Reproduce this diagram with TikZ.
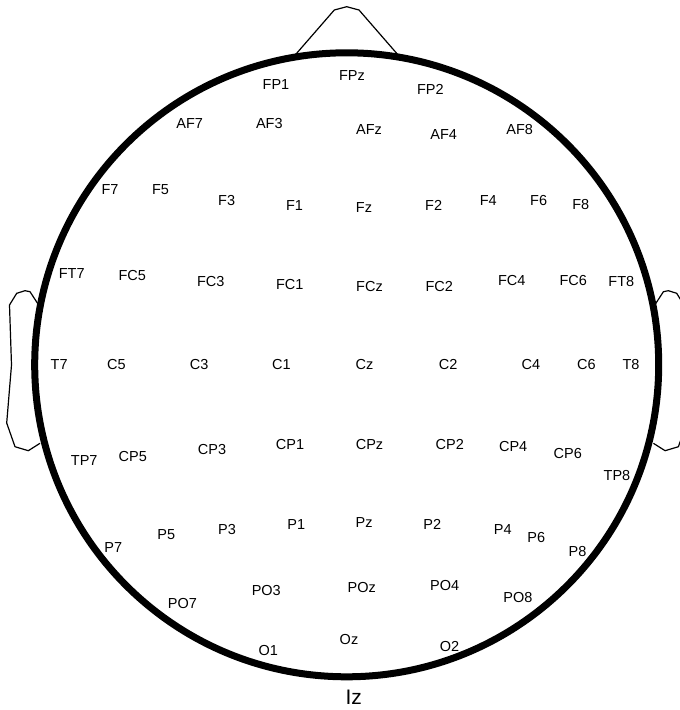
\documentclass[tikz,border=0pt]{standalone}
\usepackage{fontspec}
\setmainfont{Liberation Sans}
\begin{document}
\begin{tikzpicture}[x=1pt,y=-1pt,
  lbl/.style={font=\fontsize{14.5}{17}\selectfont, inner sep=0pt, anchor=center},
  headline/.style={line width=7pt},
  thin/.style={line width=1.2pt, line join=round}]
\useasboundingbox (0,0) rectangle (680,710);
\clip (0,0) rectangle (680,710);
% nose
\coordinate (nl) at (294.3,56);
\coordinate (nr) at (399,56);
\draw[thin] (nl) -- (334.3,10) -- (346.7,6.7) -- (359,10) -- (nr);
% left ear
\draw[thin] (38,304) -- (30,291.7) -- (25,290.7) -- (16.7,293.3) -- (9.5,305) -- (11.5,365) -- (6.7,423) -- (15,446.7) -- (28.3,450.7) -- (40,443.3);
% right ear (mirror)
\draw[thin] (655.4,304) -- (663.4,291.7) -- (668.4,290.7) -- (676.7,293.3) -- (683.9,305) -- (681.9,365) -- (686.7,423) -- (678.4,446.7) -- (665.1,450.7) -- (653.4,443.3);
% head
\draw[headline, fill=white] (346.7,364.8) circle[radius=312];
% labels
\node[lbl] (FP1) at (276,84.7) {FP1};
\node[lbl] (FPz) at (352,75.5) {FPz};
\node[lbl] (FP2) at (430.3,89.2) {FP2};
\node[lbl] (AF7) at (189.7,124) {AF7};
\node[lbl] (AF3) at (269.3,123.2) {AF3};
\node[lbl] (AFz) at (369,129.2) {AFz};
\node[lbl] (AF4) at (443.7,134.2) {AF4};
\node[lbl] (AF8) at (519.7,129.2) {AF8};
\node[lbl] (F7) at (110,189.5) {F7};
\node[lbl] (F5) at (160.5,190) {F5};
\node[lbl] (F3) at (226.7,200.8) {F3};
\node[lbl] (F1) at (294.5,205.8) {F1};
\node[lbl] (Fz) at (364,207.5) {Fz};
\node[lbl] (F2) at (433.7,205.8) {F2};
\node[lbl] (F4) at (488.3,200.8) {F4};
\node[lbl] (F6) at (538.7,200.8) {F6};
\node[lbl] (F8) at (580.8,204.2) {F8};
\node[lbl] (FT7) at (71.7,273.8) {FT7};
\node[lbl] (FC5) at (132.2,275.2) {FC5};
\node[lbl] (FC3) at (210.8,281.8) {FC3};
\node[lbl] (FC1) at (289.7,285) {FC1};
\node[lbl] (FCz) at (369.5,286.2) {FCz};
\node[lbl] (FC2) at (439.2,286.8) {FC2};
\node[lbl] (FC4) at (511.7,280.8) {FC4};
\node[lbl] (FC6) at (573.3,280.8) {FC6};
\node[lbl] (FT8) at (621.3,281.3) {FT8};
\node[lbl] (T7) at (59.2,365) {T7};
\node[lbl] (C5) at (116.3,365) {C5};
\node[lbl] (C3) at (199.2,365) {C3};
\node[lbl] (C1) at (281.3,365) {C1};
\node[lbl] (Cz) at (364.5,365) {Cz};
\node[lbl] (C2) at (448.2,365) {C2};
\node[lbl] (C4) at (530.8,365) {C4};
\node[lbl] (C6) at (586.3,365) {C6};
\node[lbl] (T8) at (631,365) {T8};
\node[lbl] (TP7) at (84.2,460.8) {TP7};
\node[lbl] (CP5) at (132.8,456.7) {CP5};
\node[lbl] (CP3) at (212,449.2) {CP3};
\node[lbl] (CP1) at (290,444.5) {CP1};
\node[lbl] (CPz) at (369.5,444.2) {CPz};
\node[lbl] (CP2) at (449.8,444.5) {CP2};
\node[lbl] (CP4) at (513.2,447) {CP4};
\node[lbl] (CP6) at (567.8,453.3) {CP6};
\node[lbl] (TP8) at (617,476) {TP8};
\node[lbl] (P7) at (113.3,547.5) {P7};
\node[lbl] (P5) at (166.2,534.2) {P5};
\node[lbl] (P3) at (227,529.2) {P3};
\node[lbl] (P1) at (296.3,524.8) {P1};
\node[lbl] (Pz) at (364.2,522.5) {Pz};
\node[lbl] (P2) at (432.2,524.8) {P2};
\node[lbl] (P4) at (502.7,529.2) {P4};
\node[lbl] (P6) at (536.2,537.5) {P6};
\node[lbl] (P8) at (577.5,551.7) {P8};
\node[lbl] (PO7) at (182.5,603.7) {PO7};
\node[lbl] (PO3) at (266.3,590.5) {PO3};
\node[lbl] (POz) at (361.7,587.5) {POz};
\node[lbl] (PO4) at (444.7,585.8) {PO4};
\node[lbl] (PO8) at (518,597.5) {PO8};
\node[lbl] (O1) at (268.2,650.8) {O1};
\node[lbl] (Oz) at (349,639.5) {Oz};
\node[lbl] (O2) at (449.5,646.2) {O2};
\node[lbl, font=\fontsize{21}{24}\selectfont] (Iz) at (353.7,697.5) {Iz};
\end{tikzpicture}
\end{document}
